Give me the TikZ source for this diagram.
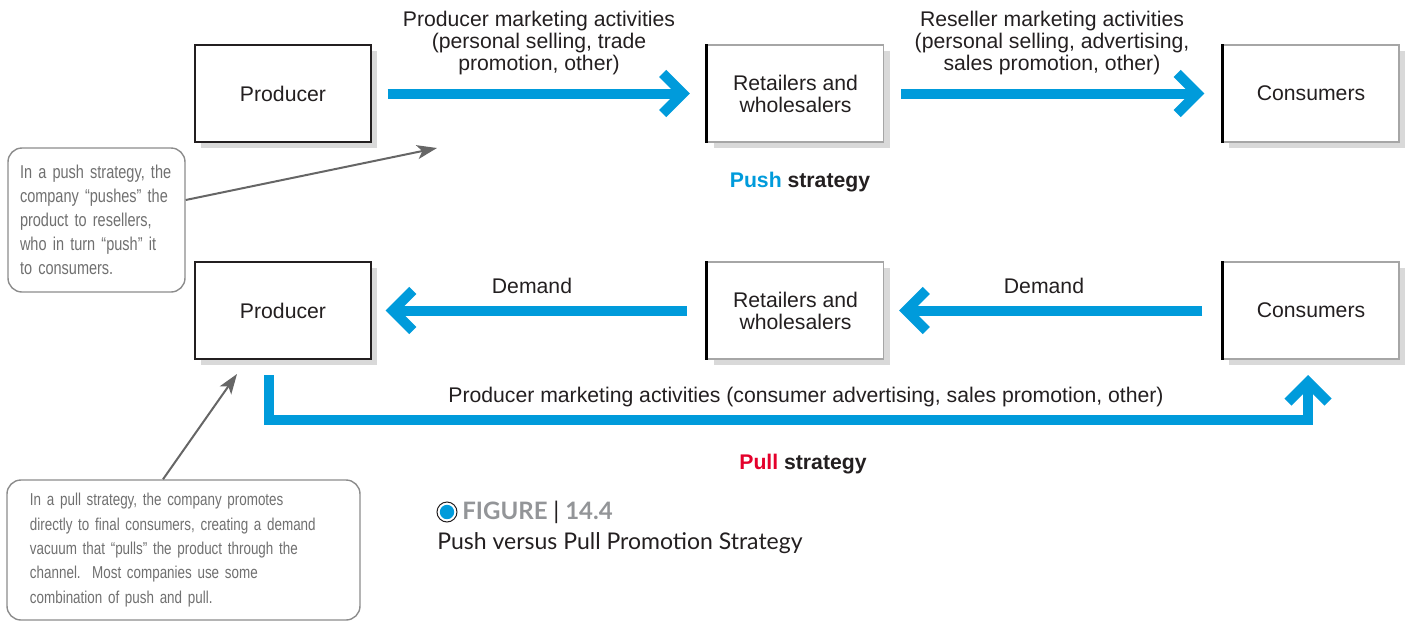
\documentclass[tikz,border=0pt]{standalone}
\usepackage{fontspec}
\setmainfont{Liberation Sans}
\newfontfamily\notefont[FakeStretch=0.78, WordSpace=0.85]{Liberation Sans}
\newfontfamily\capfont{Lato}
\usetikzlibrary{positioning, arrows.meta, calc, shadows}

\definecolor{pushblue}{RGB}{0,155,219}
\definecolor{pullred}{RGB}{228,0,43}
\definecolor{notegray}{RGB}{112,112,112}
\definecolor{noteline}{RGB}{140,140,140}
\definecolor{capgray}{RGB}{147,149,152}
\definecolor{inkblack}{RGB}{35,31,32}

\tikzset{
  stagebox/.style={draw=inkblack, line width=0.7pt, fill=white, minimum width=88pt, minimum height=48.5pt,
    align=center, text=inkblack, font=\fontsize{10.6}{11}\selectfont,
    drop shadow={shadow xshift=3pt, shadow yshift=-3pt, opacity=0.3}},
  channelbox/.style={stagebox, draw=black!35},
  flow/.style={draw=pushblue, line width=5pt, -{Straight Barb[length=10pt, width=20pt]}},
  flowlabel/.style={align=center, text=inkblack, font=\fontsize{10.6}{11}\selectfont},
  strategy/.style={text=inkblack, font=\bfseries\fontsize{10.6}{11}\selectfont},
  note/.style={draw=noteline, line width=0.7pt, rounded corners=7pt, fill=white, align=left,
    text=notegray, font=\notefont\fontsize{9.3}{12}\selectfont, minimum height=72pt},
  pointer/.style={draw=black!60, line width=1pt, -{Stealth[length=10pt, width=7pt, inset=2.5pt]}}
}

\begin{document}
\begin{tikzpicture}[x=0.5pt, y=-0.5pt]
  \useasboundingbox (0,0) rectangle (1405,622);

  % Push strategy row
  \node[stagebox] (prodA) at (283,93.5) {Producer};
  \node[channelbox] (retA) at (795.5,93.5) {Retailers and\\wholesalers};
  \node[channelbox] (conA) at (1311,93.5) {Consumers};
  \draw[line width=1.4pt] (retA.north west) -- (retA.south west);
  \draw[line width=1.4pt] (conA.north west) -- (conA.south west);

  \draw[flow] ([xshift=8pt]prodA.east) -- ([xshift=-8.5pt]retA.west);
  \draw[flow] ([xshift=8.5pt]retA.east) -- ([xshift=-9pt]conA.west);

  \node[flowlabel] (pushtxtA) at (539,43) {Producer marketing activities\\(personal selling, trade\\promotion, other)};
  \node[flowlabel] (pushtxtB) at (1052,43) {Reseller marketing activities\\(personal selling, advertising,\\sales promotion, other)};
  \node[strategy] (pushname) at (800,182) {\textcolor{pushblue}{Push} strategy};

  % Pull strategy row
  \node[stagebox] (prodB) at (283,310.5) {Producer};
  \node[channelbox] (retB) at (795.5,310.5) {Retailers and\\wholesalers};
  \node[channelbox] (conB) at (1311,310.5) {Consumers};
  \draw[line width=1.4pt] (retB.north west) -- (retB.south west);
  \draw[line width=1.4pt] (conB.north west) -- (conB.south west);

  \draw[flow] ([xshift=-10pt]retB.west) -- ([xshift=7pt]prodB.east);
  \draw[flow] ([xshift=-10pt]conB.west) -- ([xshift=7.5pt]retB.east);
  \node[flowlabel] (demandA) at (532,286) {Demand};
  \node[flowlabel] (demandB) at (1044,286) {Demand};

  \coordinate (pullstart) at (269,375);
  \coordinate (pullend) at (1308,375);
  \draw[flow] (pullstart) |- (1308,420) -- (pullend);
  \node[flowlabel] (pulltxt) at (806,397) {Producer marketing activities (consumer advertising, sales promotion, other)};
  \node[strategy] (pullname) at (803,464) {\textcolor{pullred}{Pull} strategy};

  % Callouts
  \node[note, text width=76.5pt, inner xsep=6pt] (noteA) at (96.5,220)
    {In a push strategy, the\\company “pushes” the\\product to resellers,\\who in turn “push” it\\to consumers.};
  \node[note, text width=153.5pt, inner xsep=11.5pt, minimum height=70pt, font=\notefont\fontsize{8.6}{12.15}\selectfont] (noteB) at (183.5,550)
    {In a pull strategy, the company promotes\\directly to final consumers, creating a demand\\vacuum that “pulls” the product through the\\channel.\ \ Most companies use some\\combination of push and pull.};
  \coordinate (pushtip) at (437,148);
  \coordinate (pulltip) at (237,374);
  \draw[pointer] ([yshift=10pt]noteA.east) -- (pushtip);
  \draw[pointer] ([xshift=-10.25pt]noteB.north) -- (pulltip);

  % Figure caption
  \filldraw[draw=inkblack, line width=0.5pt, fill=white] (447,512) circle (5pt);
  \fill[pushblue] (447,512) circle (3.6pt);
  \node[anchor=west, inner sep=0pt, text=capgray, font=\capfont\bfseries\fontsize{12}{14}\selectfont] (figtag) at (462,512)
    {FIGURE \textcolor{inkblack}{\mdseries|} 14.4};
  \node[anchor=west, inner sep=0pt, text=inkblack, font=\capfont\fontsize{11.5}{14}\selectfont] (figtitle) at (437,543)
    {Push versus Pull Promotion Strategy};
\end{tikzpicture}
\end{document}
